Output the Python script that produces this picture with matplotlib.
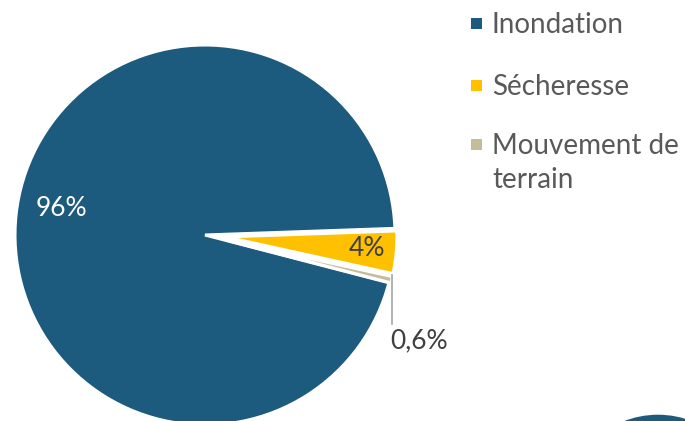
import numpy as np
import matplotlib
matplotlib.use("Agg")
import matplotlib.pyplot as plt
from matplotlib.patches import Rectangle, Circle

categories = ["Inondation", "Sécheresse", "Mouvement de\nterrain"]
values = [95.4, 4.0, 0.6]
value_labels = ["96%", "4%", "0,6%"]
colors = ["#1C5A7E", "#FFC000", "#C4BD97"]

W, H = 685, 421
fig = plt.figure(figsize=(W / 100, H / 100), dpi=100)
ax = fig.add_axes([0, 0, 1, 1])

FONT = "Lato"
cx, cy, R = 205, H - 235, 190

wedges, _ = ax.pie(values, colors=colors, startangle=2 + 360 * values[0] / 100,
                   counterclock=False, center=(cx, cy), radius=R,
                   wedgeprops=dict(edgecolor="white", linewidth=2.2))

# explode the small slices (shift apex outward, keep outer edge near the blue rim)
shift = 21
for w in wedges[1:]:
    mid = np.deg2rad((w.theta1 + w.theta2) / 2)
    w.set_center((cx + shift * np.cos(mid), cy + shift * np.sin(mid)))
    w.set_radius(R - shift + 2)

ax.set_xlim(0, W)
ax.set_ylim(0, H)
ax.set_aspect("equal")
ax.axis("off")

# data labels
w0 = wedges[0]
a0 = np.deg2rad((w0.theta1 + w0.theta2) / 2 - 4)
ax.text(cx + 0.78 * R * np.cos(a0) + 2, cy + 0.78 * R * np.sin(a0), value_labels[0],
        color="white", fontsize=19, family=FONT, ha="center", va="center")

w1 = wedges[1]
a1 = np.deg2rad((w1.theta1 + w1.theta2) / 2 + 0.5)
c1 = w1.center
ax.text(c1[0] + 0.83 * w1.r * np.cos(a1), c1[1] + 0.83 * w1.r * np.sin(a1), value_labels[1],
        color="#404040", fontsize=19, family=FONT, ha="center", va="center")

w2 = wedges[2]
a2 = np.deg2rad((w2.theta1 + w2.theta2) / 2)
c2 = w2.center
px = c2[0] + w2.r * np.cos(a2)
py = c2[1] + w2.r * np.sin(a2) + 5
ax.plot([px, px], [py, py - 49], color="#A6A6A6", lw=1.2)
ax.text(px + 27, py - 66, value_labels[2], color="#404040", fontsize=19,
        family=FONT, ha="center", va="center")

# legend (drawn manually so the marker aligns with the first line)
sq_x, sq_size = 471, 11
baselines = [33, 95, 154]
line_gap = 34
for cat, col, base in zip(categories, colors, baselines):
    ax.add_patch(Rectangle((sq_x, H - base + 4), sq_size, sq_size, facecolor=col,
                           edgecolor="none"))
    for i, line in enumerate(cat.split("\n")):
        ax.text(492, H - base - i * line_gap, line, color="#595959", fontsize=20,
                family=FONT, ha="left", va="baseline")

# partial decorative shape at bottom right
ax.add_patch(Circle((658, H - 414.7 - 93), 93, facecolor=colors[0], edgecolor="none",
                    clip_on=True))

fig.savefig("out.png", dpi=100)
